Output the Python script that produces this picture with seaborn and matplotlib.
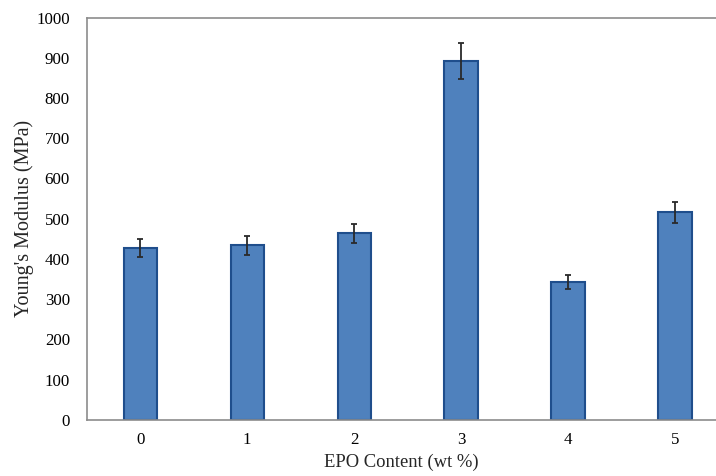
import pandas as pd
import matplotlib
matplotlib.use("Agg")
import matplotlib.pyplot as plt
import seaborn as sns

# Data
epo_content = ['0', '1', '2', '3', '4', '5']
modulus = [427, 434, 464, 893, 342, 516]
modulus_err = [22, 23, 24, 45, 17, 26]

df = pd.DataFrame({'EPO': epo_content, 'Modulus': modulus})

sns.set_style("white")
plt.rcParams['font.family'] = ['Liberation Serif', 'DejaVu Serif']

fig = plt.figure(figsize=(7.16, 4.76), dpi=100)
ax = fig.add_axes([0.121, 0.118, 0.879, 0.845])

sns.barplot(data=df, x='EPO', y='Modulus', color='#4F81BD', width=0.31,
            edgecolor='#1F4E8C', linewidth=1.5, saturation=1, errorbar=None, ax=ax)

# error bars at the bar centres
centres = [p.get_x() + p.get_width() / 2 for p in ax.patches]
ax.errorbar(centres, modulus, yerr=modulus_err, fmt='none', ecolor='#2a2a2a',
            elinewidth=1.3, capsize=2.2, capthick=1.3)

ax.set_ylim(0, 1000)
ax.set_yticks(range(0, 1001, 100))
ax.set_xlim(-0.5, 5.383)
ax.set_xlabel("EPO Content (wt %)", fontsize=13.4, labelpad=4)
ax.set_ylabel("Young's Modulus (MPa)", fontsize=14.5, labelpad=2)
ax.tick_params(axis='both', length=0, labelsize=12.2, colors='black')
ax.tick_params(axis='x', pad=9)
ax.tick_params(axis='y', pad=12)

for side in ['left', 'bottom', 'top']:
    ax.spines[side].set_color('#8c8c8c')
    ax.spines[side].set_linewidth(1.2)
ax.spines['right'].set_visible(False)

plt.savefig("out.png", dpi=100)
